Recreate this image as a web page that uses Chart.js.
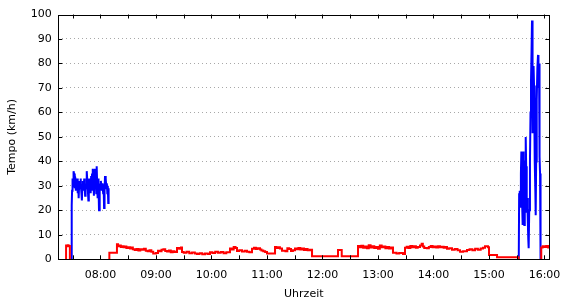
<!DOCTYPE html>
<html>
<head>
<meta charset="utf-8">
<script src="https://cdn.jsdelivr.net/npm/chart.js@4.4.1/dist/chart.umd.min.js"></script>
<style>
html,body{margin:0;padding:0;background:#fff;}
#wrap{width:570px;height:300px;}
</style>
</head>
<body>
<div id="wrap"><canvas id="c" width="570" height="300"></canvas></div>
<script>
// time axis in minutes since midnight
const xMin = 434.4;
const xMax = 965.2;
const yTicks = [0,10,20,30,40,50,60,70,80,90,100];
const hourLabels = ['08:00','09:00','10:00','11:00','12:00','13:00','14:00','15:00','16:00'];

// red series (walking) – stepped; null = gap
const redTime = [442.6,442.8,443.8,444.6,445.5,446.9, 447.5,
 489.4,489.6,497.8,499.0,500.5,502,503.5,505,506.5,508,510,512,513.5,515,517,519,521,523,525,527,529,531,533,535,537,540,542.2,544,546,548,550,552,554,556,558,560,562.7,565,567,568.1,570,573,576,579,582,584.3,587,590,593,596,598.4,601,604,607,610,613,616,620,622,624,626,627.6,630,633,636,638.4,641,643.8,646,648,650,652.5,654,656,658,660,668.7,670,672,674,676.2,680,682,684,686,688,690.3,692,694,696,698,700,702,704,706.5,708.7,736.8,740.8,758.4,760,762,764,766,768,770,772,774,776,778,780,782,784,786,788,790,792,794,796.2,800,803,807,809.2,811,813,815,817,819,821,823,825.4,827.2,828.5,830,833,835,837,839,841,843,845,847,849,851,853,854.6,857,860,863,866,868.7,872,876.2,879,882,885,888,891,893.5,895.7,898.9,900.0,908.7,932.0,
 933,
 956.2,956.5,958,960,962,964,965.2];
const redSpeed = [0,5.6,5.3,5.7,5.4,0, null,
 0,2.7,6.1,5.3,5.6,5.0,5.3,4.9,5.2,4.6,4.9,4.4,4.8,4.1,3.8,4.2,3.6,4.1,3.9,4.3,3.5,3.3,3.7,3.1,2.4,2.6,3.5,3.3,3.9,4.1,3.4,3.2,3.6,2.9,3.3,3.0,4.6,4.3,4.8,3.0,2.7,3.1,2.5,2.8,2.4,2.2,2.5,2.1,2.4,2.2,2.9,2.6,3.1,2.7,3.0,2.5,2.9,4.4,4.0,5.0,4.6,3.4,3.7,3.2,3.5,3.1,2.9,4.3,4.7,4.2,4.5,4.0,3.6,3.3,3.0,2.4,5.0,4.6,4.9,4.4,3.5,3.3,4.5,4.2,3.4,3.7,4.4,4.1,4.6,4.0,4.4,3.8,4.2,3.7,3.9,1.2,3.8,1.2,5.4,4.9,5.5,4.7,5.2,4.5,5.7,4.8,5.3,4.6,5.0,4.3,5.6,4.9,5.2,4.5,5.0,4.4,4.8,2.7,2.4,2.6,2.2,4.7,5.1,4.6,5.4,4.9,5.3,4.7,5.0,5.6,6.4,5.2,4.6,4.5,5.0,5.4,4.9,5.2,4.8,5.3,4.9,5.1,4.7,5.0,4.3,4.5,3.9,4.2,3.7,3.1,3.3,3.8,4.1,3.7,4.3,3.9,4.4,4.7,5.3,4.9,1.8,0.8,0,
 null,
 0,4.8,5.3,5.0,5.4,4.8,4.8];

// blue series (cycling)
const blueTime = [448.6,448.9,449.3,449.8,450.3,450.9,451.4,451.9,452.4,452.9,453.4,453.9,454.4,454.9,455.4,455.9,456.4,456.9,457.4,457.9,458.4,458.9,459.4,459.9,460.4,460.9,461.4,461.9,462.4,462.9,463.4,463.9,464.4,464.9,465.4,465.9,466.4,466.9,467.4,467.9,468.4,468.9,469.4,469.9,470.4,470.9,471.4,471.9,472.4,472.9,473.4,473.9,474.4,474.9,475.4,475.9,476.4,476.9,477.4,477.9,478.4,478.9,479.4,479.9,480.4,480.9,481.4,481.9,482.4,482.9,483.4,483.9,484.4,484.9,485.4,485.9,486.4,486.9,487.4,487.9,488.4,488.8,
 600,
 932.2,932.6,933.0,933.5,934.0,934.5,935.0,935.4,935.9,936.4,936.8,937.1,937.6,938.2,938.7,939.2,939.7,940.2,940.8,941.4,942.0,942.5,942.9,943.5,944.3,944.9,945.4,946.0,946.5,946.9,947.3,947.8,948.2,948.7,949.2,949.7,950.1,950.5,951.0,951.6,952.3,953.0,953.5,954.1,954.5,954.8,955.2,955.5,956.0];
const blueSpeed = [0,22,28,33,30,36,35,31,29,32,28,31,30,33,27,31,25,30,32,29,33,31,27,24,30,32,31,28,33,30,26,31,29,33,36,31,28,24,30,33,29,32,27,34,30,35,28,37,31,26,34,37,29,32,27,38,31,25,33,29,20,24,31,29,32,30,28,31,29,27,30,21,28,34,31,33,29,31,27,30,23,29,
 null,
 0,27,28,24,21.5,35,44,43,22,14,30,44,33,14,25,40,50,38,19,25,15,8,4.5,20,40,60,72.5,85,97.5,80,51.5,65,79,71,55,40,28,18,40,65,78,83.5,70,80,60,42,35,28,0];

const toPts = (t, v) => t.map((x, i) => ({x: x, y: v[i]}));

const fmt = m => {
  const h = Math.floor(m / 60), mm = Math.round(m - h * 60);
  return String(h).padStart(2, '0') + ':' + String(mm).padStart(2, '0');
};

const FONT = {family: 'DejaVu Sans', size: 11};

const framePlugin = {
  id: 'frame',
  afterDatasetsDraw(chart) {
    const {ctx, chartArea: a, scales} = chart;
    ctx.save();
    ctx.strokeStyle = '#000';
    ctx.lineWidth = 1;
    ctx.beginPath();
    scales.x.ticks.forEach(t => {
      const px = Math.round(scales.x.getPixelForValue(t.value)) + 0.5;
      ctx.moveTo(px, a.bottom); ctx.lineTo(px, a.bottom - 4);
      ctx.moveTo(px, a.top); ctx.lineTo(px, a.top + 4);
    });
    scales.y.ticks.forEach(t => {
      const py = Math.round(scales.y.getPixelForValue(t.value)) + 0.5;
      ctx.moveTo(a.left, py); ctx.lineTo(a.left + 4, py);
      ctx.moveTo(a.right, py); ctx.lineTo(a.right - 4, py);
    });
    ctx.stroke();
    ctx.strokeRect(Math.round(a.left) + 0.5, Math.round(a.top) + 0.5,
      Math.round(a.right) - Math.round(a.left), Math.round(a.bottom) - Math.round(a.top));
    ctx.restore();
  }
};

new Chart(document.getElementById('c'), {
  type: 'line',
  data: {
    datasets: [
      {label: 'red', data: toPts(redTime, redSpeed), borderColor: '#ff0000', borderWidth: 2,
       pointRadius: 0, stepped: true, spanGaps: false, tension: 0, fill: false},
      {label: 'blue', data: toPts(blueTime, blueSpeed), borderColor: '#0000ff', borderWidth: 2,
       pointRadius: 0, spanGaps: false, tension: 0, fill: false}
    ]
  },
  options: {
    responsive: false,
    animation: false,
    events: [],
    parsing: false,
    layout: {padding: {left: 0, right: 20.7, top: 14.5, bottom: 0}},
    plugins: {legend: {display: false}, tooltip: {enabled: false}},
    scales: {
      x: {
        type: 'linear', min: xMin, max: xMax,
        afterFit(s) { s.height = 40.7; },
        afterBuildTicks(s) {
          s.ticks = [];
          for (let m = 450; m <= xMax; m += 30) s.ticks.push({value: m});
        },
        border: {display: false},
        grid: {display: false, drawTicks: false},
        ticks: {
          autoSkip: false, maxRotation: 0, color: '#000', font: FONT, padding: 9,
          callback: (v) => {
            if (v % 60 !== 0) return '';
            const lbl = fmt(v);
            return hourLabels.includes(lbl) ? lbl : '';
          }
        },
        title: {display: true, text: 'Uhrzeit', color: '#000', font: FONT, padding: {top: 0, bottom: -0.5}}
      },
      y: {
        type: 'linear', min: 0, max: 100,
        afterFit(s) { s.width = 58.3; },
        afterBuildTicks(s) { s.ticks = yTicks.map(v => ({value: v})); },
        border: {display: false, dash: [1, 3]},
        grid: {
          drawTicks: false,
          color: (c) => (c.tick && (c.tick.value === 0 || c.tick.value === 100)) ? 'rgba(0,0,0,0)' : '#a8a8a8',
          lineWidth: 1
        },
        ticks: {color: '#000', font: FONT, padding: 6.5},
        title: {display: true, text: 'Tempo (km/h)', color: '#000', font: FONT, padding: {top: 5.5, bottom: 0}}
      }
    }
  },
  plugins: [framePlugin]
});
</script>
</body>
</html>
